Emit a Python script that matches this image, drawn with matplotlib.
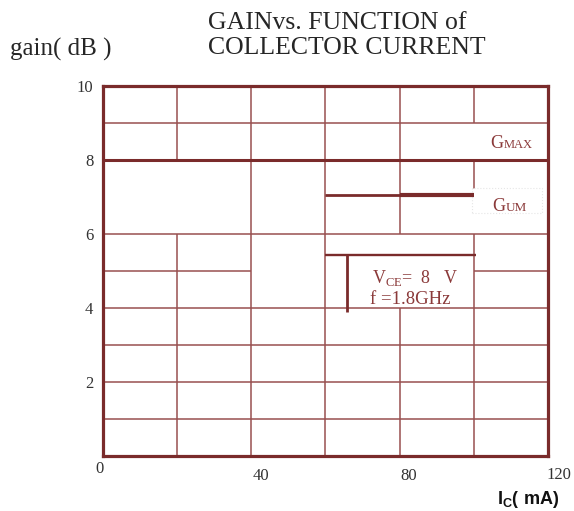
import matplotlib
matplotlib.use('Agg')
import matplotlib.pyplot as plt
from matplotlib.patches import Rectangle
import matplotlib.transforms as mtransforms

plt.rcParams['font.family'] = ['Liberation Serif', 'DejaVu Serif']
plt.rcParams['mathtext.fontset'] = 'custom'
plt.rcParams['mathtext.rm'] = 'Liberation Serif'
plt.rcParams['mathtext.bf'] = 'Liberation Sans:bold'

# chart data
current_ticks = [0, 40, 80, 120]
gain_ticks = [2, 4, 6, 8, 10]

# grid pieces: (level, start, end)
h_grid = [(9, 0, 120), (6, 0, 120), (5, 0, 40), (5, 100, 120),
          (4, 0, 120), (3, 0, 120), (2, 0, 120), (1, 0, 120)]
v_grid = [(20, 8, 10), (20, 0, 6), (40, 0, 10), (60, 0, 10),
          (80, 6, 10), (80, 0, 4), (100, 9, 10), (100, 7.05, 8), (100, 0, 6)]

gmax_current = [0, 120]
gmax_gain = [8, 8]
gum_current_a = [60, 80]
gum_gain_a = [7.05, 7.05]
gum_current_b = [80, 100]
gum_gain_b = [7.05, 7.05]

# bracket around the test conditions
cond_h_current = [60, 100.5]
cond_h_gain = [5.43, 5.43]
cond_v_current = [65.8, 65.8]
cond_v_gain = [5.43, 3.9]

dark = '#7a2b2b'
grid_c = '#985050'

fig = plt.figure(figsize=(5.74, 5.11), dpi=100)
ax = fig.add_axes([0.1794, 0.1076, 0.7753, 0.7241])
ax.set_xlim(0, 120)
ax.set_ylim(0, 10)

for y, x0, x1 in h_grid:
    ax.plot([x0, x1], [y, y], color=grid_c, lw=1.1, solid_capstyle='butt', zorder=2)
for x, y0, y1 in v_grid:
    ax.plot([x, x], [y0, y1], color=grid_c, lw=1.1, solid_capstyle='butt', zorder=2)

# GUM label backdrop
ax.add_patch(Rectangle((99.6, 6.57), 18.8, 0.68, facecolor='white',
                       edgecolor='#e6e6e6', lw=0.8, ls=':', zorder=3))

ax.plot(gmax_current, gmax_gain, color=dark, lw=2.2, solid_capstyle='butt', zorder=4)
ax.plot(gum_current_a, gum_gain_a, color=dark, lw=2.0, solid_capstyle='butt', zorder=4)
ax.plot(gum_current_b, gum_gain_b, color=dark, lw=3.0, solid_capstyle='butt', zorder=4)
ax.plot(cond_h_current, cond_h_gain, color=dark, lw=1.7, solid_capstyle='butt', zorder=4)
ax.plot(cond_v_current, cond_v_gain, color=dark, lw=2.0, solid_capstyle='butt', zorder=4)

for s in ax.spines.values():
    s.set_color(dark)
    s.set_linewidth(2.3)
    s.set_zorder(5)

ax.set_xticks(current_ticks)
ax.set_xticklabels([str(v) for v in current_ticks])
ax.set_yticks(gain_ticks)
ax.set_yticklabels([str(v) for v in gain_ticks])
ax.tick_params(length=0, labelsize=12, colors='#333333')
ax.tick_params(axis='y', pad=7)
ax.tick_params(axis='x', pad=8)

# x tick labels sit a little to the right in the original
offsets = [(-3, 6), (10, -1), (9, -1), (11, 0)]
for lab, (dx, dy) in zip(ax.get_xticklabels(), offsets):
    lab.set_transform(lab.get_transform() +
                      mtransforms.ScaledTranslation(dx / 100, dy / 100, fig.dpi_scale_trans))

# labels inside the plot
lab_c = '#8b3a3a'
ax.text(104.4, 8.32, 'G', fontsize=13, color=lab_c, zorder=6)
ax.text(108.0, 8.32, 'MAX', fontsize=9, color=lab_c, zorder=6)
ax.text(104.9, 6.63, 'G', fontsize=13, color=lab_c, zorder=6)
ax.text(108.6, 6.63, 'UM', fontsize=9.5, color=lab_c, zorder=6)
ax.text(72.6, 4.68, r'V$_{\mathrm{CE}}$=  8   V', fontsize=13, color=lab_c, zorder=6)
ax.text(72.0, 4.10, 'f =1.8GHz', fontsize=13.5, color=lab_c, zorder=6)

fig.text(208 / 574, 1 - 23 / 511, 'GAINvs. FUNCTION of', fontsize=18.5,
         color='#262626', va='center', ha='left')
fig.text(208 / 574, 1 - 48 / 511, 'COLLECTOR CURRENT', fontsize=18.5,
         color='#262626', va='center', ha='left')
fig.text(10 / 574, 1 - 49 / 511, 'gain( dB )', fontsize=18,
         color='#262626', va='center', ha='left')
fig.text(560 / 574, 1 - 500 / 511, r'$\mathbf{I_C(\ mA)}$', fontsize=13,
         color='#111111', va='center', ha='right')

fig.savefig('out.png', dpi=100)
